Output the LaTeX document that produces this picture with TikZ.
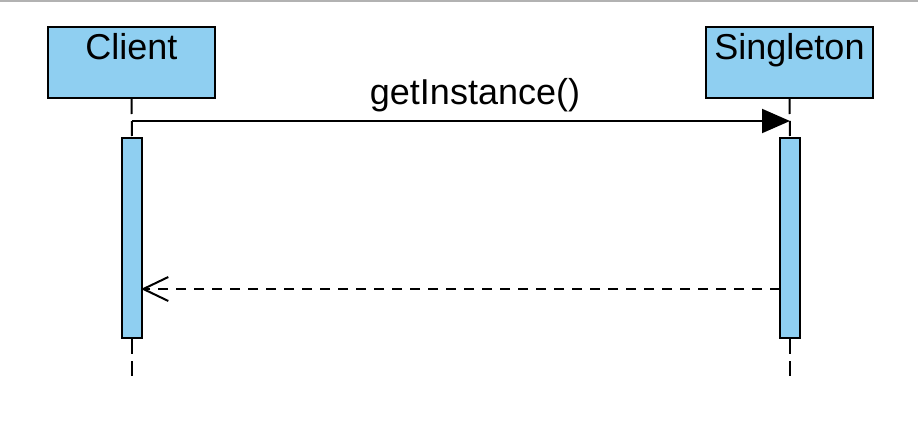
\documentclass[tikz,border=0pt]{standalone}
\usepackage{fontspec}
\setmainfont{Liberation Sans}
\usetikzlibrary{arrows.meta}
\definecolor{lifeblue}{RGB}{143,207,241}

\begin{document}
\begin{tikzpicture}[x=0.5pt, y=-0.5pt,
        lifebox/.style={draw=black, line width=1pt, fill=lifeblue, minimum width=83.5pt, minimum height=35.5pt, inner sep=0pt},
        boxtext/.style={anchor=north, inner sep=3.5pt, font=\fontsize{18}{20}\selectfont},
        actbar/.style={draw=black, line width=1pt, fill=lifeblue, minimum width=10pt, minimum height=100pt, inner sep=0pt},
        lifeline/.style={line width=1pt, dash pattern=on 7.5pt off 3.5pt},
        callmsg/.style={line width=1pt, -{Triangle[length=14pt, width=12pt]}},
        replymsg/.style={line width=1pt, dash pattern=on 5pt off 4pt, -{Straight Barb[length=12.5pt, width=12pt]}}]
        \useasboundingbox (0,0) rectangle (918,434);
        
        % Top rule
        \draw[gray!60, line width=1pt] (0,1) -- (918,1);
        
        % Lifeline heads
        \node[lifebox] (client) at (131.5,62.5) {};
        \node[boxtext] (clientname) at (client.north) {Client};
        \node[lifebox] (singleton) at (789.5,62.5) {};
        \node[boxtext] (singletonname) at (singleton.north) {Singleton};
        
        % Activation bars
        \node[actbar] (clientact) at (132,238) {};
        \node[actbar] (singletonact) at (790,238) {};
        
        % Lifelines
        \coordinate (clientend) at (132,378);
        \coordinate (singletonend) at (790,378);
        \draw[lifeline] (client.south) -- (clientact.north);
        \draw[lifeline] (clientact.south) -- (clientend);
        \draw[lifeline] (singleton.south) -- (singletonact.north);
        \draw[lifeline] (singletonact.south) -- (singletonend);
        
        % Messages
        \coordinate (callstart) at (132,121);
        \coordinate (callend) at (790,121);
        \draw[callmsg] (callstart) -- (callend);
        \node[font=\fontsize{18}{20}\selectfont] (calllabel) at (475,95) {getInstance()};
        
        \coordinate (replystart) at (780,289);
        \coordinate (replyend) at (141,289);
        \draw[replymsg] (replystart) -- (replyend);
    \end{tikzpicture}
\end{document}
